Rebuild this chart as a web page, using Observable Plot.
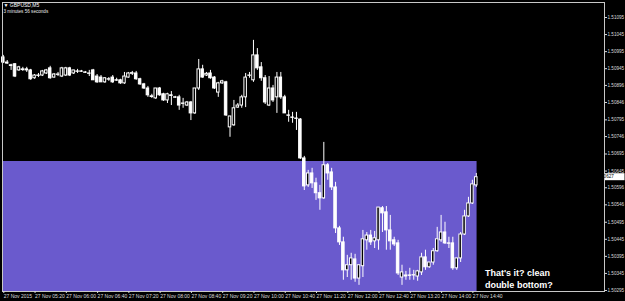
<!DOCTYPE html>
<html><head><meta charset="utf-8">
<script src="https://cdn.jsdelivr.net/npm/d3@7"></script>
<script src="https://cdn.jsdelivr.net/npm/@observablehq/plot@0.6"></script>
<style>html,body{margin:0;padding:0;background:#000;overflow:hidden}</style>
</head><body><div id="chart"></div>
<script>
const symbolTitle = "\u25BC GBPUSD,M5";
const timerText = "3 minutes 56 seconds";
const firstBar = "04:40";
const barMinutes = 5;

const open = [1.50978,1.50963,1.50955,1.50958,1.50940,1.50943,1.50943,1.50940,1.50917,1.50925,1.50925,1.50931,1.50946,1.50919,1.50928,1.50922,1.50925,1.50946,1.50931,1.50937,1.50937,1.50934,1.50931,1.50940,1.50922,1.50919,1.50905,1.50914,1.50919,1.50911,1.50911,
1.50902,1.50919,1.50930,1.50931,1.50914,1.50899,1.50887,1.50864,1.50858,1.50887,1.50870,1.50852,1.50867,1.50861,1.50861,1.50843,1.50837,1.50846,1.50814,1.50887,1.50943,1.50925,1.50931,1.50919,1.50875,1.50902,1.50905,1.50773,1.50779,1.50831,1.50837,1.50861,1.50924,1.50911,1.50984,1.50949,1.50917,1.50837,1.50887,1.50861,1.50919,1.50861,1.50808,1.50802,1.50799,
1.50796,1.50682,1.50603,1.50638,1.50609,1.50580,1.50565,1.50662,1.50641,1.50597,1.50477,1.50436,1.50354,1.50369,1.50386,1.50330,1.50366,1.50442,1.50456,1.50439,1.50442,1.50536,1.50524,1.50471,1.50442,1.50433,1.50333,1.50336,1.50339,1.50339,1.50336,1.50348,1.50392,1.50363,1.50377,1.50410,1.50442,1.50465,1.50433,1.50433,1.50360,1.50389,1.50459,1.50512,1.50550,1.50603];
const high = [1.50984,1.50969,1.50958,1.50960,1.50952,1.50949,1.50949,1.50943,1.50928,1.50931,1.50940,1.50943,1.50952,1.50931,1.50934,1.50949,1.50949,1.50949,1.50940,1.50943,1.50940,1.50937,1.50940,1.50943,1.50928,1.50925,1.50919,1.50919,1.50925,1.50917,1.50914,
1.50934,1.50934,1.50937,1.50937,1.50917,1.50902,1.50893,1.50870,1.50887,1.50890,1.50873,1.50873,1.50878,1.50864,1.50867,1.50858,1.50849,1.50849,1.50849,1.50972,1.50955,1.50934,1.50940,1.50922,1.50905,1.50911,1.50908,1.50805,1.50852,1.50843,1.50867,1.50931,1.50934,1.51028,1.51004,1.50963,1.50925,1.50922,1.50896,1.50934,1.50934,1.50867,1.50823,1.50817,1.50817,
1.50799,1.50688,1.50647,1.50653,1.50624,1.50603,1.50729,1.50667,1.50653,1.50612,1.50483,1.50451,1.50398,1.50404,1.50401,1.50369,1.50471,1.50465,1.50471,1.50468,1.50538,1.50541,1.50541,1.50515,1.50451,1.50442,1.50369,1.50351,1.50360,1.50354,1.50354,1.50404,1.50413,1.50377,1.50418,1.50480,1.50515,1.50495,1.50451,1.50451,1.50389,1.50465,1.50530,1.50568,1.50618,1.50638];
const low = [1.50960,1.50958,1.50940,1.50919,1.50937,1.50937,1.50934,1.50911,1.50914,1.50919,1.50922,1.50928,1.50914,1.50917,1.50922,1.50919,1.50922,1.50922,1.50928,1.50931,1.50934,1.50931,1.50922,1.50911,1.50902,1.50905,1.50902,1.50908,1.50902,1.50908,1.50899,
1.50899,1.50917,1.50925,1.50911,1.50896,1.50884,1.50861,1.50858,1.50855,1.50864,1.50849,1.50843,1.50837,1.50858,1.50823,1.50829,1.50834,1.50793,1.50811,1.50881,1.50917,1.50922,1.50914,1.50884,1.50861,1.50899,1.50805,1.50744,1.50776,1.50829,1.50829,1.50831,1.50917,1.50905,1.50940,1.50908,1.50840,1.50834,1.50846,1.50814,1.50855,1.50814,1.50788,1.50785,1.50764,
1.50679,1.50588,1.50597,1.50594,1.50559,1.50530,1.50562,1.50618,1.50588,1.50462,1.50427,1.50325,1.50333,1.50325,1.50319,1.50310,1.50333,1.50413,1.50427,1.50418,1.50413,1.50465,1.50413,1.50413,1.50424,1.50339,1.50310,1.50325,1.50325,1.50325,1.50322,1.50339,1.50354,1.50360,1.50369,1.50407,1.50436,1.50430,1.50418,1.50354,1.50354,1.50377,1.50456,1.50509,1.50547,1.50597];
const close = [1.50963,1.50960,1.50953,1.50922,1.50949,1.50941,1.50940,1.50914,1.50925,1.50924,1.50937,1.50940,1.50917,1.50928,1.50927,1.50946,1.50946,1.50925,1.50940,1.50936,1.50936,1.50933,1.50930,1.50911,1.50905,1.50905,1.50917,1.50913,1.50905,1.50910,1.50902,
1.50922,1.50931,1.50932,1.50914,1.50899,1.50887,1.50867,1.50862,1.50887,1.50867,1.50852,1.50870,1.50865,1.50860,1.50837,1.50842,1.50846,1.50814,1.50887,1.50943,1.50919,1.50930,1.50917,1.50887,1.50902,1.50908,1.50808,1.50805,1.50829,1.50837,1.50861,1.50919,1.50925,1.50984,1.50946,1.50917,1.50846,1.50887,1.50852,1.50919,1.50861,1.50814,1.50807,1.50801,1.50798,
1.50682,1.50600,1.50638,1.50609,1.50580,1.50565,1.50662,1.50638,1.50597,1.50477,1.50436,1.50354,1.50369,1.50389,1.50330,1.50369,1.50445,1.50456,1.50436,1.50448,1.50538,1.50521,1.50471,1.50439,1.50430,1.50345,1.50348,1.50339,1.50338,1.50340,1.50351,1.50392,1.50363,1.50377,1.50410,1.50445,1.50465,1.50433,1.50432,1.50360,1.50389,1.50459,1.50512,1.50550,1.50606,1.50627];

const yTickLabels = ["1.51095","1.51045","1.50995","1.50945","1.50896","1.50846","1.50795","1.50746","1.50695","1.50645","1.50596","1.50546","1.50495","1.50445","1.50395","1.50345","1.50295"];
const xTickTimes = ["04:40","05:20","06:00","06:40","07:20","08:00","08:40","09:20","10:00","10:40","11:20","12:00","12:40","13:20","14:00","14:40"];
const xTickLabels = ["27 Nov 2015","27 Nov 05:20","27 Nov 06:00","27 Nov 06:40","27 Nov 07:20","27 Nov 08:00","27 Nov 08:40","27 Nov 09:20","27 Nov 10:00","27 Nov 10:40","27 Nov 11:20","27 Nov 12:00","27 Nov 12:40","27 Nov 13:20","27 Nov 14:00","27 Nov 14:40"];

const viewStart = "04:39", viewEnd = "17:29";
const priceMin = 1.50292, priceMax = 1.51139;
const zoneStart = "04:39", zoneEnd = "14:46";
const zoneTop = 1.50673, zoneBottom = 1.50292;
const noteText = "That's it? clean\ndouble bottom?";
const noteTime = "14:56", notePrice = 1.50330;

const at = s => { const [h, m] = s.split(":").map(Number); return new Date(Date.UTC(2015, 10, 27, h, m)); };
const t0 = at(firstBar);
const bars = open.map((o, i) => ({
  t: new Date(+t0 + i * barMinutes * 60000), o, h: high[i], l: low[i], c: close[i]
}));
const half = 1.6 * 60000;
const xLabel = new Map(xTickTimes.map((s, i) => [+at(s), xTickLabels[i]]));
const yTicks = yTickLabels.map(Number);
const yLabel = new Map(yTicks.map((v, i) => [v, yTickLabels[i]]));

const W = 625, H = 301;
const font = "Liberation Sans, Arial, sans-serif";
const chart = Plot.plot({
  width: W, height: H,
  marginLeft: 2, marginRight: 21, marginTop: 2, marginBottom: 10,
  style: {background: "#000", color: "#dcdcdc", fontFamily: font},
  x: {type: "utc", domain: [at(viewStart), at(viewEnd)]},
  y: {domain: [priceMin, priceMax]},
  marks: [
    Plot.rect([{x1: at(zoneStart), x2: at(zoneEnd), y1: zoneBottom, y2: zoneTop}],
      {x1: "x1", x2: "x2", y1: "y1", y2: "y2", fill: "#6a5acd"}),
    Plot.ruleX(bars, {x: "t", y1: "l", y2: "h", stroke: "#fff", strokeWidth: 1}),
    Plot.rect(bars, {
      x1: d => new Date(+d.t - half), x2: d => new Date(+d.t + half),
      y1: "o", y2: "c",
      fill: d => d.c > d.o ? "#000" : "#fff", stroke: "#fff", strokeWidth: 1
    }),
    Plot.frame({stroke: "#c8c8c8"}),
    Plot.axisY({anchor: "right", ticks: yTicks, tickFormat: d => yLabel.get(d), tickSize: 2, tickPadding: 1, fontSize: 4.6}),
    Plot.axisX({anchor: "bottom", ticks: xTickTimes.map(at), tickFormat: d => xLabel.get(+d), tickSize: 2, tickPadding: 1, fontSize: 5, textAnchor: "start", dx: 0.5}),
    Plot.text([symbolTitle], {frameAnchor: "top-left", dx: 1, dy: 1, fontSize: 5, fill: "#fff", textAnchor: "start", lineAnchor: "top"}),
    Plot.text([timerText], {frameAnchor: "top-left", dx: 1, dy: 7.5, fontSize: 4.6, fill: "#e8e8e8", textAnchor: "start", lineAnchor: "top"}),
    Plot.text([noteText], {x: () => at(noteTime), y: () => notePrice, fontSize: 9, fontWeight: "bold", fill: "#fff", textAnchor: "start", lineAnchor: "middle", lineHeight: 1.33})
  ]
});

const svg = d3.select(chart);
const yScale = chart.scale("y");
const lastClose = close[close.length - 1];
const yy = yScale.apply(lastClose);
svg.append("rect").attr("x", W - 20).attr("y", yy - 3.5).attr("width", 19.5).attr("height", 7).attr("fill", "#fff");
svg.append("text").attr("x", W - 19.5).attr("y", yy + 1.7).attr("font-size", 4.6).attr("fill", "#000")
  .attr("font-family", font).text(lastClose.toFixed(5));

document.getElementById("chart").appendChild(chart);
</script>
</body></html>
